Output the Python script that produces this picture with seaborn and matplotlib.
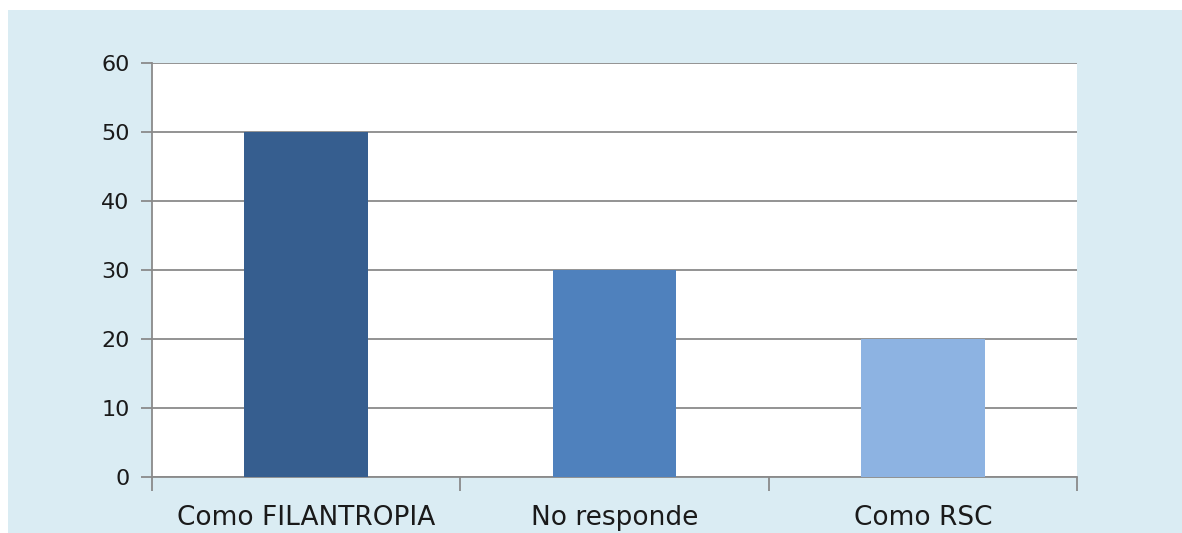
import matplotlib
matplotlib.use("Agg")
import matplotlib.pyplot as plt
import seaborn as sns
import pandas as pd
from matplotlib.patches import Rectangle

# data
categories = ["Como FILANTROPIA", "No responde", "Como RSC"]
values = [50, 30, 20]
bar_colors = ["#365E8F", "#4F81BD", "#8DB3E2"]
y_ticks = [0, 10, 20, 30, 40, 50, 60]

df = pd.DataFrame({"cat": categories, "val": values})

sns.set_style("white")
plt.rcParams["font.family"] = ["DejaVu Sans"]

fig = plt.figure(figsize=(11.82, 5.33), dpi=100, facecolor="white")
# light blue panel behind the chart
fig.patches.append(Rectangle((8 / 1182, -0.02), 1, 1.02 - 10 / 533, transform=fig.transFigure,
                             facecolor="#DAECF3", edgecolor="none", zorder=-5))

ax = fig.add_axes([152 / 1182, 1 - 477 / 533, (1077 - 152) / 1182, (477 - 63) / 533])
ax.set_facecolor("white")

sns.barplot(data=df, x="cat", y="val", hue="cat", palette=bar_colors,
            width=0.4, legend=False, ax=ax, saturation=1, linewidth=0, zorder=3)

ax.set_xlim(-0.5, 2.5)
ax.set_ylim(0, 60)
ax.set_yticks(y_ticks)
ax.yaxis.grid(True, color="#8A8A8A", linewidth=1.3, zorder=1)
ax.set_axisbelow(True)

for s in ["top", "right"]:
    ax.spines[s].set_visible(False)
for s in ["left", "bottom"]:
    ax.spines[s].set_color("#8A8A8A")
    ax.spines[s].set_linewidth(1.3)

ax.set_xlabel("")
ax.set_ylabel("")
ax.tick_params(axis="x", which="major", bottom=True, length=0, labelsize=19, pad=20,
               colors="#1A1A1A")
ax.set_xticks([-0.5, 0.5, 1.5, 2.5], minor=True)
ax.tick_params(axis="x", which="minor", bottom=True, length=10, width=1.3, color="#8A8A8A")
ax.tick_params(axis="y", left=True, length=8, width=1.3, color="#8A8A8A", labelsize=16,
               pad=8, labelcolor="#1A1A1A")

fig.savefig("out.png", dpi=100, facecolor="white")
